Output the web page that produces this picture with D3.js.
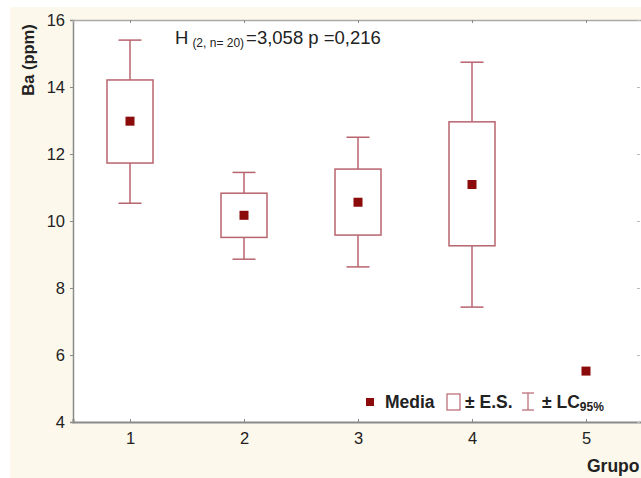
<!DOCTYPE html>
<html><head><meta charset="utf-8">
<script src="https://cdn.jsdelivr.net/npm/d3@7"></script>
<style>body{margin:0;background:#fff}svg{display:block}</style>
</head><body>
<script>
const groups = [1, 2, 3, 4, 5];
const means   = [12.98, 10.17, 10.56, 11.09, 5.52];
const seHigh  = [14.21, 10.83, 11.55, 12.96, null];
const seLow   = [11.73, 9.51, 9.58, 9.26, null];
const ciHigh  = [15.40, 11.45, 12.50, 14.74, null];
const ciLow   = [10.53, 8.86, 8.63, 7.43, null];
const yTicks = [4, 6, 8, 10, 12, 14, 16];

const W = 641, H = 478;
const svg = d3.select("body").append("svg").attr("width", W).attr("height", H);
const font = "Arial, 'Liberation Sans', sans-serif";

svg.append("rect").attr("x", 10).attr("y", 7).attr("width", W - 10).attr("height", H - 7).attr("fill", "#fdf8ec");

const x = d3.scaleLinear().domain([0.5, 5.5]).range([73, 643]);
const y = d3.scaleLinear().domain([4, 16]).range([422, 20]);

svg.append("rect").attr("x", 73).attr("y", 20).attr("width", 643 - 73).attr("height", 402).attr("fill", "#fff");

const axisCol = "#8a8a8a";
// left axis
const gl = svg.append("g").attr("transform", "translate(73,0)")
  .call(d3.axisLeft(y).tickValues(yTicks).tickSize(3).tickPadding(5));
gl.select(".domain").attr("stroke", axisCol).attr("stroke-width", 1.5);
gl.selectAll(".tick line").attr("stroke", axisCol);
gl.selectAll(".tick text").attr("font-family", font).attr("font-size", 16.5).attr("fill", "#222");

// bottom axis
const gb = svg.append("g").attr("transform", "translate(0,422)")
  .call(d3.axisBottom(x).tickValues(groups).tickSize(-3).tickPadding(10).tickFormat(d3.format("d")));
gb.select(".domain").attr("stroke", axisCol).attr("stroke-width", 2);
gb.selectAll(".tick line").attr("stroke", axisCol);
gb.selectAll(".tick text").attr("font-family", font).attr("font-size", 16.5).attr("fill", "#222");

// top axis
const gt = svg.append("g").attr("transform", "translate(0,20)")
  .call(d3.axisTop(x).tickValues(groups).tickSize(-3).tickFormat(""));
gt.select(".domain").attr("stroke", "#aaa").attr("stroke-width", 1.5);
gt.selectAll(".tick line").attr("stroke", axisCol);

// right axis ticks
const gr = svg.append("g").attr("transform", "translate(640,0)")
  .call(d3.axisRight(y).tickValues(yTicks).tickSize(-3).tickFormat(""));
gr.select(".domain").attr("stroke", "none");
gr.selectAll(".tick line").attr("stroke", "#bbb");

const boxCol = "#b8646e";
const meanCol = "#8b0a0a";
const bw = 23, cw = 11.5;

groups.forEach((g, i) => {
  const cx = x(g);
  if (ciHigh[i] != null) {
    const gg = svg.append("g").attr("stroke", boxCol).attr("stroke-width", 1.5).attr("fill", "none");
    gg.append("line").attr("x1", cx).attr("x2", cx).attr("y1", y(ciHigh[i])).attr("y2", y(seHigh[i]));
    gg.append("line").attr("x1", cx).attr("x2", cx).attr("y1", y(seLow[i])).attr("y2", y(ciLow[i]));
    gg.append("line").attr("x1", cx - cw).attr("x2", cx + cw).attr("y1", y(ciHigh[i])).attr("y2", y(ciHigh[i]));
    gg.append("line").attr("x1", cx - cw).attr("x2", cx + cw).attr("y1", y(ciLow[i])).attr("y2", y(ciLow[i]));
    gg.append("rect").attr("x", cx - bw).attr("width", 2 * bw)
      .attr("y", y(seHigh[i])).attr("height", y(seLow[i]) - y(seHigh[i])).attr("fill", "#fff");
  }
  svg.append("rect").attr("x", cx - 4.5).attr("y", y(means[i]) - 4.5).attr("width", 9).attr("height", 9).attr("fill", meanCol);
});

// title
const t = svg.append("text").attr("x", 175).attr("y", 44).attr("font-family", font).attr("font-size", 18.5).attr("fill", "#222");
t.append("tspan").text("H");
t.append("tspan").attr("font-size", 12).attr("dy", 3).attr("dx", 4).text("(2, n= 20)");
t.append("tspan").attr("dy", -3).attr("dx", 2).text("=3,058 p =0,216");

// y label
svg.append("text").attr("transform", "translate(34,60) rotate(-90)").attr("text-anchor", "middle")
  .attr("font-family", font).attr("font-size", 16.5).attr("font-weight", "bold").attr("fill", "#222").text("Ba (ppm)");

// x label
svg.append("text").attr("x", 587).attr("y", 472).attr("font-family", font).attr("font-size", 17.5)
  .attr("font-weight", "bold").attr("fill", "#222").text("Grupo");

// legend
const lg = svg.append("g");
const lfs = 17.5;
lg.append("rect").attr("x", 366).attr("y", 398).attr("width", 8).attr("height", 8).attr("fill", meanCol);
lg.append("text").attr("x", 385).attr("y", 408).attr("font-family", font).attr("font-size", lfs).attr("font-weight", "bold").attr("fill", "#222").text("Media");
lg.append("rect").attr("x", 447).attr("y", 394).attr("width", 13).attr("height", 16).attr("fill", "#fff").attr("stroke", boxCol).attr("stroke-width", 1.2);
lg.append("text").attr("x", 465).attr("y", 408).attr("font-family", font).attr("font-size", lfs).attr("font-weight", "bold").attr("fill", "#222").text("± E.S.");
const wk = lg.append("g").attr("stroke", boxCol).attr("stroke-width", 1.2);
wk.append("line").attr("x1", 528).attr("x2", 528).attr("y1", 393).attr("y2", 410);
wk.append("line").attr("x1", 522).attr("x2", 534).attr("y1", 393).attr("y2", 393);
wk.append("line").attr("x1", 522).attr("x2", 534).attr("y1", 410).attr("y2", 410);
const lt = lg.append("text").attr("x", 542).attr("y", 408).attr("font-family", font).attr("font-size", lfs).attr("font-weight", "bold").attr("fill", "#222");
lt.append("tspan").text("± LC");
lt.append("tspan").attr("font-size", 12).attr("dy", 3).text("95%");
</script>
</body></html>
